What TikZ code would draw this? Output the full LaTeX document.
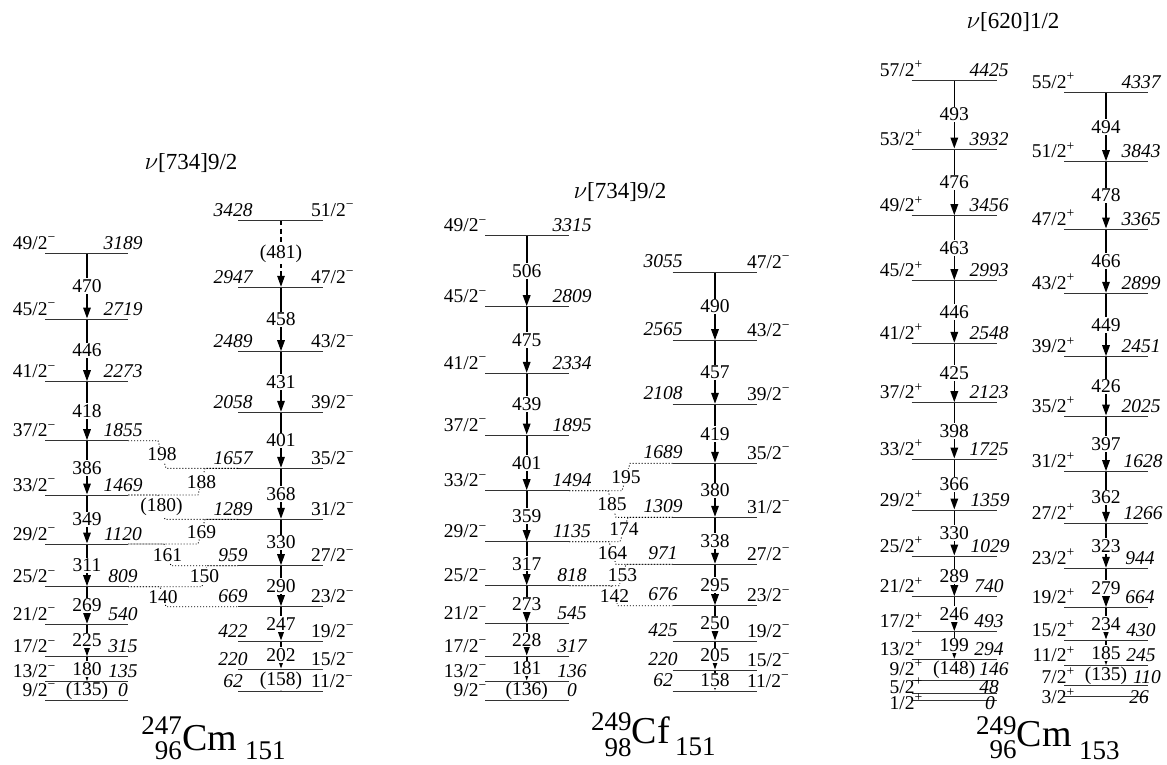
\documentclass[tikz,border=0pt]{standalone}
\usepackage{fontspec}
\setmainfont{Liberation Serif}
\usetikzlibrary{arrows.meta}
\newcommand\labfont{\fontsize{19.5}{22}\selectfont}
\newcommand\ttlfont{\fontsize{23}{26}\selectfont}
\newcommand\nucbig{\fontsize{38}{42}\selectfont}
\newcommand\nucsm{\fontsize{27}{30}\selectfont}
\newcommand\sgnm{\textsuperscript{−}}
\newcommand\sgnp{\textsuperscript{+}}
% level lists: n/y/J/E
\def\LA{1/253/49/3189,2/319/45/2719,3/381.7/41/2273,4/440.7/37/1855,5/495/33/1469,6/544/29/1120,7/586.7/25/809,8/624.3/21/540,9/656.7/17/315,10/681.7/13/135,11/700/9/0}
\def\LB{1/220/51/3428,2/287.3/47/2947,3/351.7/43/2489,4/412.3/39/2058,5/468.3/35/1657,6/519.3/31/1289,7/565.7/27/959,8/606.7/23/669,9/641/19/422,10/669/15/220,11/691.7/11/62}
\def\LCA{1/235.7/49/3315,2/306.7/45/2809,3/373.3/41/2334,4/435/37/1895,5/490.7/33/1494,6/541.7/29/1135,7/585.7/25/818,8/623.3/21/545,9/656/17/317,10/681/13/136,11/700.7/9/0}
\def\LCB{1/272.3/47/3055,2/340.7/43/2565,3/404.3/39/2108,4/463.3/35/1689,5/517.3/31/1309,6/564.3/27/971,7/605.7/23/676,8/641/19/425,9/670/15/220,10/691/11/62}
% n/y/J/E/dy/ex
\def\LDA{1/80/57/4425/4/989,2/149/53/3932/4/989,3/215.7/49/3456/4/989,4/280.7/45/2993/4/989,5/343.3/41/2548/4/989,6/402.7/37/2123/4/989,7/459/33/1725/4/989,8/510/29/1359/4/990,9/556/25/1029/4/990,10/596.7/21/740/4/989,11/631.7/17/493/4/989,12/659.3/13/294/4/989,13/680/9/146/5/994,14/693.3/5/48/0/989,15/700/1/0/-9.5/990}
\def\LDB{1/92.3/55/4337/4/1141,2/161.7/51/3843/4/1141,3/229/47/3365/4/1141,4/293.3/43/2899/4/1141,5/356.7/39/2451/4/1141,6/416/35/2025/4/1141,7/471.7/31/1628/4/1143,8/523.3/27/1266/4/1143,9/568.3/23/944/4/1140,10/607.7/19/664/4/1140,11/640/15/430/4/1141,12/665.7/11/245/4/1141,13/685/7/110/2/1147,14/696.7/3/26/-7/1139}
\begin{document}
\begin{tikzpicture}[x=1pt,y=-1pt,
  lev/.style={line width=1pt,black!80},
  gam/.style={line width=1.6pt,-{Triangle[length=11pt,width=7.5pt]},shorten >=0.5pt},
  gamdash/.style={gam,line width=1.2pt,dash pattern=on 5pt off 3.5pt},
  cross/.style={line width=0.9pt,dash pattern=on 1pt off 2pt},
  glab/.style={fill=white,inner sep=1.2pt,font=\labfont},
  spinlab/.style={inner sep=0pt,font=\labfont},
  enlab/.style={inner sep=0pt,font=\labfont\itshape},
  ttl/.style={inner sep=0pt,font=\ttlfont},
  nucA/.style={inner sep=0pt,font=\nucbig},
  nucB/.style={inner sep=0pt,font=\nucsm},
]
\useasboundingbox (0,0) rectangle (1167,764);
% ---------- coordinates ----------
\foreach \n/\y/\J/\E in \LA {\coordinate (a\n) at (87,\y); \coordinate (aL\n) at (45,\y); \coordinate (aR\n) at (128,\y);}
\foreach \n/\y/\J/\E in \LB {\coordinate (b\n) at (281,\y); \coordinate (bL\n) at (238,\y); \coordinate (bR\n) at (323,\y);}
\foreach \n/\y/\J/\E in \LCA {\coordinate (A\n) at (526.7,\y); \coordinate (AL\n) at (485,\y); \coordinate (AR\n) at (569,\y);}
\foreach \n/\y/\J/\E in \LCB {\coordinate (B\n) at (715,\y); \coordinate (BL\n) at (672.7,\y); \coordinate (BR\n) at (757,\y);}
\foreach \n/\y/\J/\E/\dy/\ex in \LDA {\coordinate (C\n) at (954.3,\y); \coordinate (CL\n) at (911.7,\y); \coordinate (CR\n) at (996.7,\y);}
\foreach \n/\y/\J/\E/\dy/\ex in \LDB {\coordinate (D\n) at (1106,\y); \coordinate (DL\n) at (1064,\y); \coordinate (DR\n) at (1148.3,\y);}
% ---------- transitions ----------
\foreach \p/\q/\g in {1/2/470,2/3/446,3/4/418,4/5/386,5/6/349,6/7/311,7/8/269,8/9/225,9/10/180,10/11/(135)}
  \draw[gam] (a\p) -- node[glab] (ga\p) {\g} (a\q);
\draw[gamdash] (b1) -- node[glab] (gb1) {(481)} (b2);
\foreach \p/\q/\g in {2/3/458,3/4/431,4/5/401,5/6/368,6/7/330,7/8/290,8/9/247,9/10/202,10/11/(158)}
  \draw[gam] (b\p) -- node[glab] (gb\p) {\g} (b\q);
\foreach \p/\q/\g in {1/2/506,2/3/475,3/4/439,4/5/401,5/6/359,6/7/317,7/8/273,8/9/228,9/10/181,10/11/(136)}
  \draw[gam] (A\p) -- node[glab] (gA\p) {\g} (A\q);
\foreach \p/\q/\g in {1/2/490,2/3/457,3/4/419,4/5/380,5/6/338,6/7/295,7/8/250,8/9/205,9/10/158}
  \draw[gam] (B\p) -- node[glab] (gB\p) {\g} (B\q);
\foreach \p/\q/\g in {1/2/493,2/3/476,3/4/463,4/5/446,5/6/425,6/7/398,7/8/366,8/9/330,9/10/289,10/11/246,11/12/199,12/13/(148)}
  \draw[gam] (C\p) -- node[glab] (gC\p) {\g} (C\q);
\foreach \p/\q/\g in {1/2/494,2/3/478,3/4/466,4/5/449,5/6/426,6/7/397,7/8/362,8/9/323,9/10/279,10/11/234,11/12/185,12/13/(135)}
  \draw[gam] (D\p) -- node[glab] (gD\p) {\g} (D\q);
% ---------- crossing transitions ----------
\draw[cross] (aR4) -- (158,440.7) -- node[glab] (x198) {198} (166,468.3) -- (bL5);
\draw[cross] (bL5) -- (205,468.3) -- node[glab] (x188) {188} (198,495) -- (aR5);
\draw[cross] (aR5) -- (158,495) -- node[glab] (x180) {(180)} (165,519.3) -- (bL6);
\draw[cross] (bL6) -- (205,519.3) -- node[glab] (x169) {169} (198,544) -- (aR6);
\draw[cross] (aR6) -- (164,544) -- node[glab] (x161) {161} (171,565.7) -- (bL7);
\draw[cross] (bL7) -- (207,565.7) -- node[glab] (x150) {150} (202,586.7) -- (aR7);
\draw[cross] (aR7) -- (160,586.7) -- node[glab] (x140) {140} (166,606.7) -- (bL8);
\draw[cross] (BL4) -- (630,463.3) -- node[glab] (y195) {195} (622,490.7) -- (AR5);
\draw[cross] (AR5) -- (608,490.7) -- node[glab] (y185) {185} (616,517.3) -- (BL5);
\draw[cross] (BL5) -- (628,517.3) -- node[glab] (y174) {174} (620,541.7) -- (AR6);
\draw[cross] (AR6) -- (609,541.7) -- node[glab] (y164) {164} (616,564.3) -- (BL6);
\draw[cross] (BL6) -- (626,564.3) -- node[glab] (y153) {153} (619,585.7) -- (AR7);
\draw[cross] (AR7) -- (611,585.7) -- node[glab] (y142) {142} (618,605.7) -- (BL7);
% ---------- levels and level labels ----------
\foreach \n/\y/\J/\E in \LA {\draw[lev] (aL\n) -- (aR\n);
  \node[spinlab,anchor=base east] (aS\n) at (56,{\y-4}) {\J/2\sgnm};
  \node[enlab,anchor=base] (aE\n) at (123,{\y-4}) {\E};}
\foreach \n/\y/\J/\E in \LB {\draw[lev] (bL\n) -- (bR\n);
  \node[spinlab,anchor=base west] (bS\n) at (311,{\y-4}) {\J/2\sgnm};
  \node[enlab,anchor=base] (bE\n) at (233,{\y-4}) {\E};}
\foreach \n/\y/\J/\E in \LCA {\draw[lev] (AL\n) -- (AR\n);
  \node[spinlab,anchor=base east] (AS\n) at (487,{\y-4}) {\J/2\sgnm};
  \node[enlab,anchor=base] (AE\n) at (572,{\y-4}) {\E};}
\foreach \n/\y/\J/\E in \LCB {\draw[lev] (BL\n) -- (BR\n);
  \node[spinlab,anchor=base west] (BS\n) at (747,{\y-4}) {\J/2\sgnm};
  \node[enlab,anchor=base] (BE\n) at (663,{\y-5}) {\E};}
\foreach \n/\y/\J/\E/\dy/\ex in \LDA {\draw[lev] (CL\n) -- (CR\n);
  \node[spinlab,anchor=base east] (CS\n) at (923,{\y-(\dy)}) {\J/2\sgnp};
  \node[enlab,anchor=base] (CE\n) at (\ex,{\y-(\dy)}) {\E};}
\foreach \n/\y/\J/\E/\dy/\ex in \LDB {\draw[lev] (DL\n) -- (DR\n);
  \node[spinlab,anchor=base east] (DS\n) at (1075,{\y-(\dy)}) {\J/2\sgnp};
  \node[enlab,anchor=base] (DE\n) at (\ex,{\y-(\dy)}) {\E};}
% ---------- titles ----------
\node[ttl] (t1) at (191,163) {$\nu$[734]9/2};
\node[ttl] (t2) at (620,192) {$\nu$[734]9/2};
\node[ttl] (t3) at (1013,22) {$\nu$[620]1/2};
% ---------- nucleus labels ----------
\node[nucA,anchor=base west] (n1) at (182,750) {Cm};
\node[nucB,anchor=base east] (n1a) at (182,734) {247};
\node[nucB,anchor=base east] (n1z) at (182,759) {96};
\node[nucB,anchor=base west] (n1n) at (245,759) {151};
\node[nucA,anchor=base west] (n2) at (631.7,743) {Cf};
\node[nucB,anchor=base east] (n2a) at (631.7,730.5) {249};
\node[nucB,anchor=base east] (n2z) at (631.7,756) {98};
\node[nucB,anchor=base west] (n2n) at (675,755) {151};
\node[nucA,anchor=base west] (n3) at (1016.7,746) {Cm};
\node[nucB,anchor=base east] (n3a) at (1016.7,734) {249};
\node[nucB,anchor=base east] (n3z) at (1016.7,758) {96};
\node[nucB,anchor=base west] (n3n) at (1079,759) {153};
\end{tikzpicture}
\end{document}
